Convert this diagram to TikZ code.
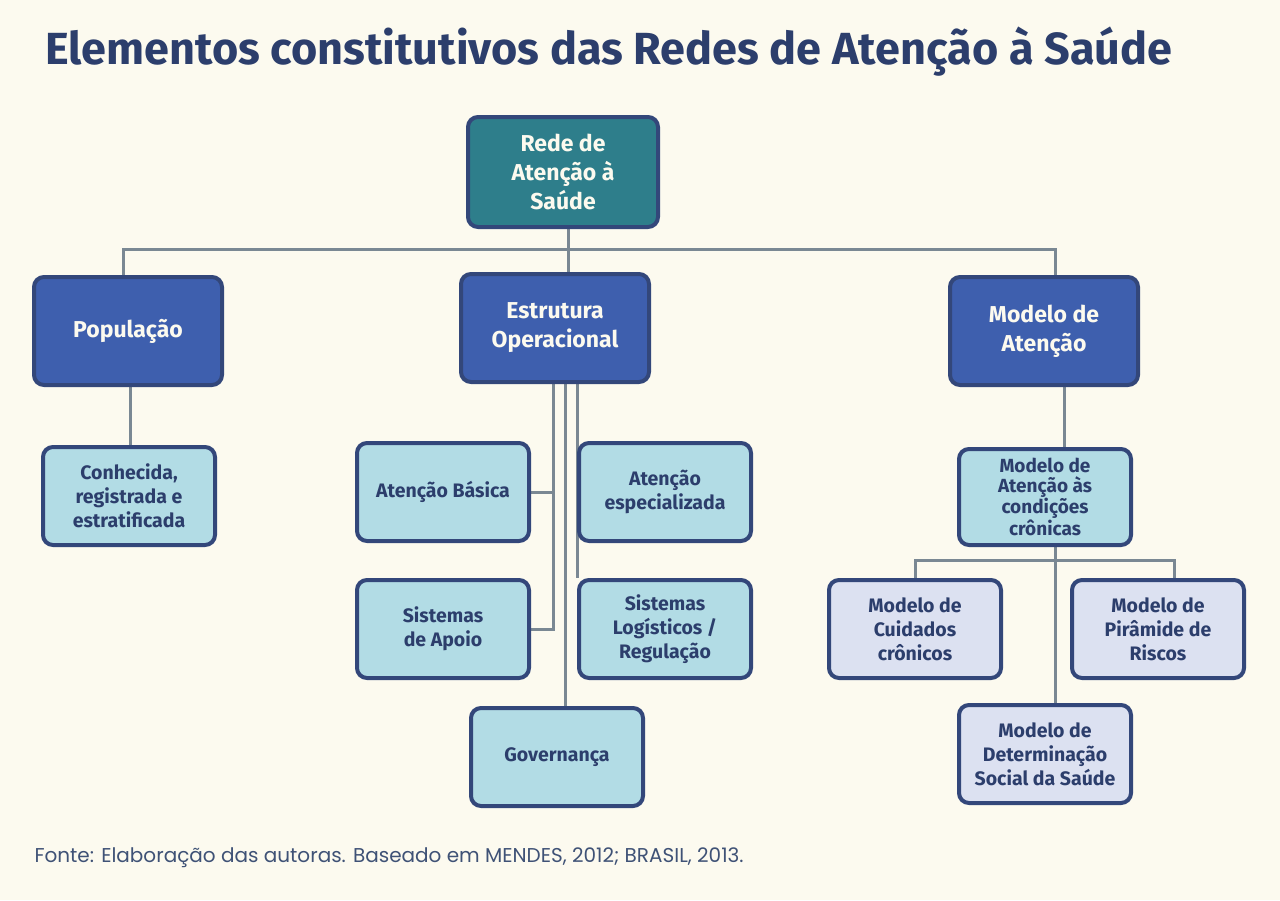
\documentclass[tikz,border=0pt]{standalone}
\usepackage{fontspec}
\setmainfont{Fira Sans}
\newfontfamily\notefont{Poppins}
\usepackage{xcolor}
\definecolor{cPaper}{HTML}{FCFAEF}
\definecolor{cInk}{HTML}{2C3E6C}
\definecolor{cEdge}{HTML}{33477A}
\definecolor{cTeal}{HTML}{2E7E8B}
\definecolor{cBlue}{HTML}{3E5FAE}
\definecolor{cSky}{HTML}{B2DCE5}
\definecolor{cLav}{HTML}{DCE1F1}
\definecolor{cLine}{HTML}{7A8893}
\definecolor{cNote}{HTML}{3F5276}
\usepackage{tikz}
\usetikzlibrary{positioning,backgrounds}
\tikzset{
  node-box/.style={draw=cEdge,line width=4pt,rounded corners=10pt,
    inner sep=2pt,align=center,text=cInk,font=\bfseries\fontsize{19.5}{24}\selectfont,
    minimum width=172pt,minimum height=98pt},
  node-root/.style={node-box,fill=cTeal,text=cPaper,minimum width=190pt,
    minimum height=110pt,font=\bfseries\fontsize{23}{29}\selectfont},
  node-main/.style={node-box,fill=cBlue,text=cPaper,minimum width=188pt,
    minimum height=108pt,font=\bfseries\fontsize{23}{29}\selectfont},
  node-sub/.style={node-box,fill=cSky},
  node-leaf/.style={node-box,fill=cLav},
  link/.style={draw=cLine,line width=3pt},
}
\begin{document}
\begin{tikzpicture}[x=1pt,y=-1pt]
  \useasboundingbox (0,0) rectangle (1280,900);
  \node[anchor=west,text=cInk,font=\bfseries\fontsize{45}{50}\selectfont]
    (title) at (42,52) {Elementos constitutivos das Redes de Atenção à Saúde};

  % topo e segundo nivel
  \node[node-root] (rede) at (563,172) {Rede de\\Atenção à\\Saúde};
  \node[node-main] (pop) at (128,331) {População};
  \node[node-main] (estr) at (555,328) {Estrutura\\Operacional};
  \node[node-main] (modelo) at (1044,331) {Modelo de\\Atenção};

  % terceiro nivel
  \node[node-sub] (conh) at (129,496) {Conhecida,\\registrada e\\estratificada};
  \node[node-sub] (atbas) at (443,492) {Atenção Básica};
  \node[node-sub] (sisap) at (443,629) {Sistemas\\de Apoio};
  \node[node-sub] (atesp) at (665,492) {Atenção\\especializada};
  \node[node-sub] (sislog) at (665,629) {Sistemas\\Logísticos /\\Regulação};
  \node[node-sub] (gov) at (557,757) {Governança};
  \node[node-sub,minimum height=96pt,font=\bfseries\fontsize{19}{20}\selectfont]
    (macc) at (1045,497) {Modelo de\\Atenção às\\condições\\crônicas};

  % modelos
  \node[node-leaf] (cuid) at (915,629) {Modelo de\\Cuidados\\crônicos};
  \node[node-leaf] (pir) at (1158,629) {Modelo de\\Pirâmide de\\Riscos};
  \node[node-leaf] (det) at (1045,754) {Modelo de\\Determinação\\Social da Saúde};

  \node[anchor=west,text=cNote,font=\notefont\fontsize{20}{24}\selectfont]
    (fonte) at (31,858) {Fonte: Elaboração das autoras. Baseado em MENDES, 2012; BRASIL, 2013.};

  \begin{scope}[on background layer]
    \fill[cPaper] (0,0) rectangle (1280,900);
    \draw[link] ([xshift=-5pt]pop.north) -- ++(0,-26) -| ([xshift=11pt]modelo.north);
    \draw[link] ([xshift=5pt]rede.south) coordinate (r0) -- (r0 |- estr.north);
    \draw[link] ([xshift=2pt]pop.south) coordinate (p0) -- (p0 |- conh.north);
    % tres troncos da estrutura
    \coordinate (tl) at ([xshift=-2pt]estr.south);
    \coordinate (tm) at ([xshift=10pt]estr.south);
    \coordinate (tr) at ([xshift=22pt]estr.south);
    \draw[link] (tl) |- (sisap.east);
    \draw[link] (atbas.east) -- (atbas.east -| tl);
    \draw[link] (tm) -- (tm |- gov.north);
    \draw[link] (tr) -- (tr |- sislog.north);
    % modelo de atencao
    \draw[link] ([xshift=20pt]modelo.south) coordinate (m0) -- (m0 |- macc.north);
    \draw[link] (cuid.north) -- ++(0,-18) -| ([xshift=16pt]pir.north);
    \draw[link] ([xshift=10pt]macc.south) coordinate (c0) -- (c0 |- det.north);
  \end{scope}
\end{tikzpicture}
\end{document}
